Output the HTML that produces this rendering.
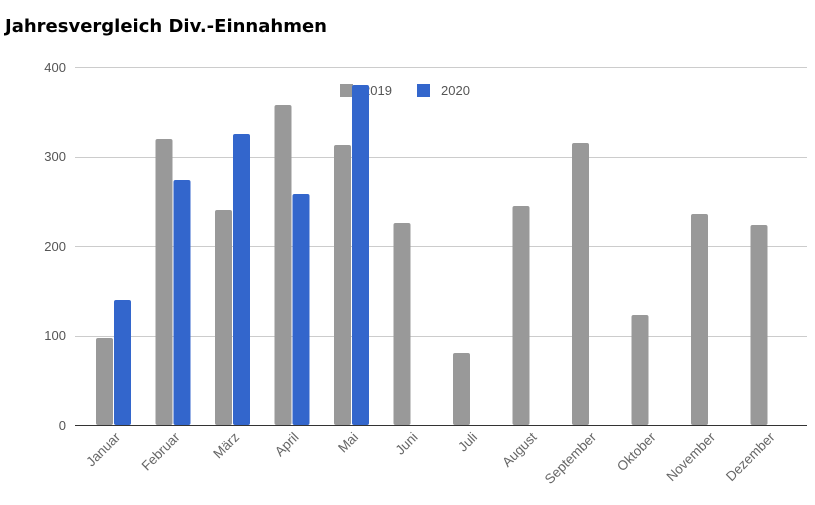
<!DOCTYPE html>
<html><head><meta charset="utf-8"><style>body{margin:0;background:#fff}svg{display:block}</style></head><body>
<svg width="815" height="505" xmlns="http://www.w3.org/2000/svg" font-family="Liberation Sans, sans-serif">
<text x="5" y="32" font-size="18" font-weight="bold" fill="#000" font-family="DejaVu Sans, sans-serif">Jahresvergleich Div.-Einnahmen</text>
<g stroke="#ccc" stroke-width="1">
<line x1="75" x2="807" y1="67.5" y2="67.5"/><line x1="75" x2="807" y1="157.5" y2="157.5"/><line x1="75" x2="807" y1="246.5" y2="246.5"/><line x1="75" x2="807" y1="336.5" y2="336.5"/>
</g>
<g font-size="13" fill="#555" text-anchor="end">
<text x="66" y="72">400</text><text x="66" y="161">300</text><text x="66" y="251">200</text><text x="66" y="340">100</text><text x="66" y="430">0</text>
</g>
<g fill="#999">
<rect x="340" y="84" width="13" height="13"/>
</g>
<g font-size="13" fill="#555">
<text x="363" y="95">2019</text><text x="441" y="95">2020</text>
</g>
<g fill="#999">
<rect x="96" y="338" width="17" height="87" rx="2"/>
<rect x="155.5" y="139" width="17" height="286" rx="2"/>
<rect x="215" y="210" width="17" height="215" rx="2"/>
<rect x="274.5" y="105" width="17" height="320" rx="2"/>
<rect x="334" y="145" width="17" height="280" rx="2"/>
<rect x="393.5" y="223" width="17" height="202" rx="2"/>
<rect x="453" y="353" width="17" height="72" rx="2"/>
<rect x="512.5" y="206" width="17" height="219" rx="2"/>
<rect x="572" y="143" width="17" height="282" rx="2"/>
<rect x="631.5" y="315" width="17" height="110" rx="2"/>
<rect x="691" y="214" width="17" height="211" rx="2"/>
<rect x="750.5" y="225" width="17" height="200" rx="2"/>
</g>
<g fill="#3366cc">
<rect x="114" y="300" width="17" height="125" rx="2"/>
<rect x="173.5" y="180" width="17" height="245" rx="2"/>
<rect x="233" y="134" width="17" height="291" rx="2"/>
<rect x="292.5" y="194" width="17" height="231" rx="2"/>
<rect x="352" y="85" width="17" height="340" rx="2"/>
<rect x="417" y="84" width="13" height="13"/>
</g>
<line x1="75" x2="807" y1="425.5" y2="425.5" stroke="#333" stroke-width="1"/>
<g font-size="13.5" fill="#666" text-anchor="end">
<text transform="translate(121,438) rotate(-45)">Januar</text>
<text transform="translate(180.5,438) rotate(-45)">Februar</text>
<text transform="translate(240,438) rotate(-45)">März</text>
<text transform="translate(299.5,438) rotate(-45)">April</text>
<text transform="translate(359,438) rotate(-45)">Mai</text>
<text transform="translate(418.5,438) rotate(-45)">Juni</text>
<text transform="translate(478,438) rotate(-45)">Juli</text>
<text transform="translate(537.5,438) rotate(-45)">August</text>
<text transform="translate(597,438) rotate(-45)">September</text>
<text transform="translate(656.5,438) rotate(-45)">Oktober</text>
<text transform="translate(716,438) rotate(-45)">November</text>
<text transform="translate(775.5,438) rotate(-45)">Dezember</text>
</g>
</svg>
</body></html>
